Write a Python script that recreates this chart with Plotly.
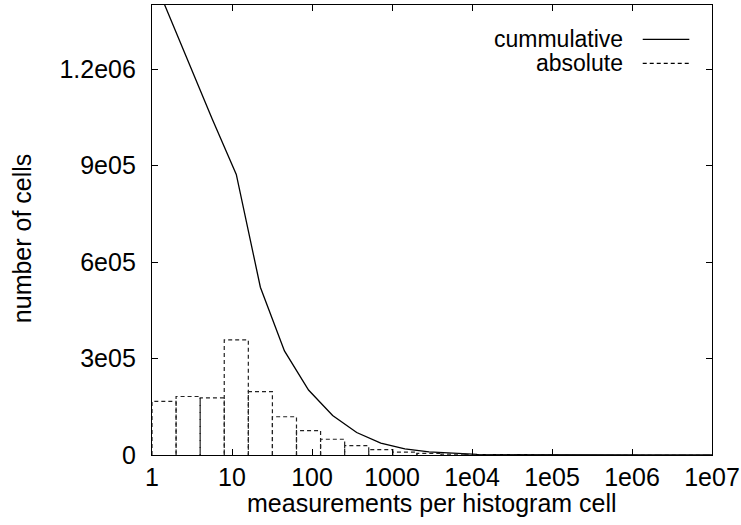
import plotly.graph_objects as go

# histogram bins (measurements per cell), doubling widths
bin_edges = [1, 2, 4, 8, 16, 32, 64, 128, 256, 512, 1024, 2048, 4096, 8192,
             16384, 32768, 65536, 131072, 262144, 524288, 1048576, 2097152,
             4194304, 8388608, 16777216]
# number of cells per bin (absolute)
absolute = [167000, 182000, 178000, 358000, 197000, 119000, 76000, 49000,
            29000, 17000, 9000, 5000, 3000, 1200, 500, 200, 80, 30, 10, 0,
            0, 0, 0, 0]
# cells with at least that many measurements (cumulative, at bin centres)
cumulative = [1405000, 1222000, 1045000, 873000, 522000, 324000, 202000,
              123000, 70000, 37000, 19000, 10000, 5000, 2000, 800, 300,
              100, 40, 10, 0, 0, 0, 0, 0]

x_tickvals = [1, 10, 100, 1000, 1e4, 1e5, 1e6, 1e7]
x_ticktext = ["1", "10", "100", "1000", "1e04", "1e05", "1e06", "1e07"]
y_tickvals = [0, 300000, 600000, 900000, 1200000]
y_ticktext = ["0", "3e05", "6e05", "9e05", "1.2e06"]

FONT = "Liberation Sans, Arial, sans-serif"

# box outlines for the histogram
hx, hy = [], []
for lo, hi, h in zip(bin_edges[:-1], bin_edges[1:], absolute):
    hx += [lo, lo, hi, hi, None]
    hy += [0, h, h, 0, None]

centres = [(lo * hi) ** 0.5 for lo, hi in zip(bin_edges[:-1], bin_edges[1:])]

fig = go.Figure()
fig.add_trace(go.Scatter(x=centres, y=cumulative, mode="lines", name="cummulative",
                         line=dict(color="black", width=1.3)))
fig.add_trace(go.Scatter(x=hx, y=hy, mode="lines", name="absolute",
                         line=dict(color="#222", width=1.2, dash="4px,3px")))

# gnuplot-style key: text right-aligned, sample to the right
key = [("cummulative", 0.9238, "solid"), ("absolute", 0.8704, "4px,3px")]
for label, yk, dash in key:
    fig.add_annotation(x=0.8423, y=yk, xref="paper", yref="paper", text=label,
                       showarrow=False, xanchor="right", yanchor="middle",
                       borderpad=0, font=dict(size=23, color="black", family=FONT))
    fig.add_shape(type="line", xref="paper", yref="paper", x0=0.8763, x1=0.9595,
                  y0=yk, y1=yk, line=dict(color="black", width=1.2, dash=dash))

# axis titles
fig.add_annotation(x=0.5, y=-0.107, xref="paper", yref="paper",
                   text="measurements per histogram cell", showarrow=False,
                   xanchor="center", yanchor="middle",
                   font=dict(size=25, color="black", family=FONT))
fig.add_annotation(x=-0.232, y=0.482, xref="paper", yref="paper",
                   text="number of cells", showarrow=False, textangle=-90,
                   xanchor="center", yanchor="middle",
                   font=dict(size=25, color="black", family=FONT))

axis = dict(showline=True, linecolor="black", linewidth=1.3, mirror="ticks",
            ticks="inside", ticklen=6, tickcolor="black", tickwidth=1,
            showgrid=False, zeroline=False, automargin=False,
            tickfont=dict(size=25, color="black", family=FONT))
fig.update_xaxes(type="log", range=[0, 7], tickvals=x_tickvals, ticktext=x_ticktext,
                 ticklabelstandoff=0, **axis)
fig.update_yaxes(range=[0, 1400000], tickvals=y_tickvals, ticktext=y_ticktext,
                 ticklabelstandoff=10, **axis)
fig.update_layout(width=741, height=525, showlegend=False,
                  plot_bgcolor="white", paper_bgcolor="white",
                  margin=dict(l=152, r=29, t=5, b=70))
# drop the default 8px page margin so the figure sits at the window's corner
fig.write_html("out.html", config={"displayModeBar": False},
               post_script="document.body.style.margin='0';document.body.style.overflow='hidden';")
